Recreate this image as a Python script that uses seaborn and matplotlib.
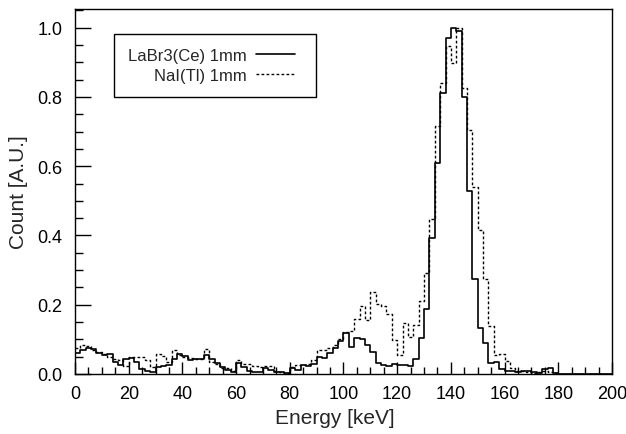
import numpy as np
import pandas as pd
import matplotlib
matplotlib.use("Agg")
import matplotlib.pyplot as plt
from matplotlib.ticker import MultipleLocator, FormatStrFormatter
from matplotlib.legend_handler import HandlerLine2D
import seaborn as sns

# ---- data: 2 keV bins from 0 to 200 keV ----
bin_edges = list(range(0, 202, 2))
bin_centers = [e + 1 for e in bin_edges[:-1]]

labr_counts = [
    0.060, 0.068, 0.076, 0.072, 0.062, 0.054, 0.058, 0.034, 0.026, 0.044,
    0.046, 0.035, 0.014, 0.010, 0.007, 0.020, 0.024, 0.025, 0.044, 0.057,
    0.053, 0.040, 0.042, 0.044, 0.056, 0.044, 0.032, 0.020, 0.012, 0.006,
    0.032, 0.020, 0.010, 0.006, 0.005, 0.016, 0.012, 0.006, 0.005, 0.004,
    0.016, 0.012, 0.027, 0.022, 0.030,
    0.050, 0.046, 0.060, 0.075, 0.095, 0.118, 0.078, 0.105, 0.100, 0.083,
    0.063, 0.033, 0.026, 0.022, 0.030, 0.026, 0.026, 0.022, 0.044, 0.105,
    0.189, 0.393,
    0.610, 0.810, 0.969, 1.000, 0.990, 0.800, 0.527, 0.274, 0.133, 0.090,
    0.031, 0.036, 0.015,
    0.010, 0.008, 0.006, 0.008, 0.008, 0.005, 0.004, 0.014, 0.016, 0.004,
    0, 0, 0, 0, 0, 0, 0, 0, 0, 0,
]

nai_counts = [
    0.075, 0.085, 0.082, 0.070, 0.064, 0.058, 0.048, 0.044, 0.040, 0.022,
    0.048, 0.050, 0.048, 0.040, 0.020, 0.058, 0.052, 0.035, 0.070, 0.056,
    0.050, 0.045, 0.044, 0.044, 0.072, 0.034, 0.028, 0.018, 0.016, 0.010,
    0.039, 0.030, 0.028, 0.022, 0.020, 0.022, 0.024, 0.010, 0.005, 0.002,
    0.020, 0.025, 0.026, 0.030, 0.040,
    0.068, 0.070, 0.075, 0.083, 0.100, 0.120, 0.125, 0.158, 0.196, 0.155,
    0.238, 0.203, 0.195, 0.172, 0.097, 0.056, 0.146, 0.107, 0.142, 0.212,
    0.293, 0.447,
    0.715, 0.841, 0.947, 0.899, 1.000, 0.826, 0.706, 0.541, 0.416, 0.274,
    0.139, 0.056, 0.058,
    0.038, 0.016, 0.010, 0.008, 0.006, 0.004, 0.006, 0.008, 0.006, 0.002,
    0, 0, 0, 0, 0, 0, 0, 0, 0, 0,
]

series_labels = ["LaBr3(Ce) 1mm", "NaI(Tl) 1mm"]
x_ticks = list(range(0, 201, 20))
y_ticks = [0.0, 0.2, 0.4, 0.6, 0.8, 1.0]

df = pd.DataFrame({"energy": bin_centers, "labr": labr_counts, "nai": nai_counts})

sns.set_theme(style="white")
plt.rcParams["font.family"] = ["Liberation Sans", "DejaVu Sans"]

fig = plt.figure(figsize=(6.26, 4.35), dpi=100)
ax = fig.add_axes([0.1198, 0.138, 0.9776 - 0.1198, 0.977 - 0.138])

sns.histplot(data=df, x="energy", weights="labr", bins=bin_edges, element="step",
             fill=False, color="black", linewidth=1.2, ax=ax)
sns.histplot(data=df, x="energy", weights="nai", bins=bin_edges, element="step",
             fill=False, color="black", linewidth=1.0, linestyle=(0, (2.0, 1.6)), ax=ax)

ax.set_xlim(0, 200)
ax.set_ylim(0, 1.054)
ax.set_xticks(x_ticks)
ax.set_yticks(y_ticks)
ax.xaxis.set_minor_locator(MultipleLocator(5))
ax.yaxis.set_minor_locator(MultipleLocator(0.05))
ax.yaxis.set_major_formatter(FormatStrFormatter("%.1f"))
ax.tick_params(axis="both", which="both", direction="in", colors="black",
               top=False, right=False, bottom=True, left=True, labelsize=13)
ax.tick_params(axis="x", which="major", length=8.6, width=1.0, pad=8)
ax.tick_params(axis="x", which="minor", length=5.0, width=1.0)
ax.tick_params(axis="y", which="major", length=11.5, width=1.0, pad=9)
ax.tick_params(axis="y", which="minor", length=5.8, width=1.0)

for sp in ax.spines.values():
    sp.set_visible(True)
    sp.set_color("black")
    sp.set_linewidth(1.0)

ax.set_xlabel("Energy [keV]", fontsize=15, va="center")
ax.set_ylabel("Count [A.U.]", fontsize=15, va="center")
ax.xaxis.set_label_coords(0.484, -0.118)
ax.yaxis.set_label_coords(-0.106, 0.5)


class TrimmedLine(HandlerLine2D):
    def __init__(self, frac, **kw):
        super().__init__(**kw)
        self.frac = frac

    def create_artists(self, legend, orig_handle, xdescent, ydescent, width,
                       height, fontsize, trans):
        return super().create_artists(legend, orig_handle, xdescent, ydescent,
                                      width * self.frac, height, fontsize, trans)


handles = ax.lines[:2]
leg = ax.legend(handles, series_labels, loc="upper left",
                bbox_to_anchor=(0.0732, 0.9315), borderaxespad=0,
                markerfirst=False, fontsize=12, handlelength=2.77,
                handletextpad=0.5, labelspacing=0.3, borderpad=0.85,
                fancybox=False, shadow=False, framealpha=1,
                edgecolor="black", facecolor="white",
                handler_map={h: TrimmedLine(0.864) for h in handles})
leg.get_frame().set_linewidth(1.0)

fig.savefig("out.png", dpi=100)
